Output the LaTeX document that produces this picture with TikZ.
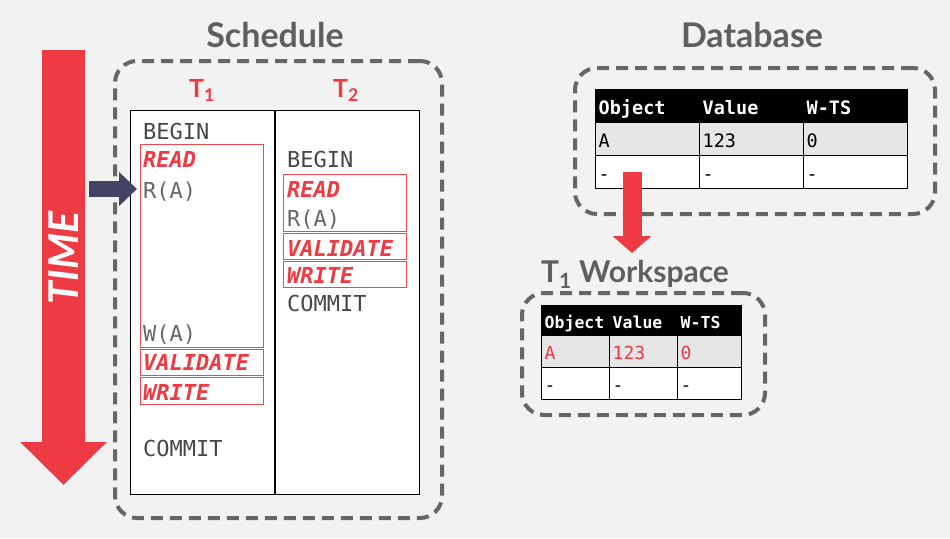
\documentclass[tikz,border=0pt]{standalone}
\usepackage{fontspec}
\setmainfont{Lato}
\setmonofont{DejaVu Sans Mono}
\usetikzlibrary{arrows.meta}
\usetikzlibrary{matrix}
\usetikzlibrary{positioning}

\definecolor{cmured}{HTML}{EE3B43}
\definecolor{boxred}{HTML}{F0474F}
\definecolor{titlegray}{HTML}{5F5F5F}
\definecolor{dashgray}{HTML}{666666}
\definecolor{textgray}{HTML}{474747}
\definecolor{lightgray}{HTML}{666666}
\definecolor{navyarrow}{HTML}{434464}
\definecolor{rowgray}{HTML}{E6E6E6}
\definecolor{bggray}{HTML}{F2F2F2}

\newcommand{\stmtfont}{\fontsize{22}{24}\selectfont\ttfamily}

\tikzset{
  heading/.style={font=\fontsize{34}{36}\selectfont\bfseries, text=titlegray, inner sep=0pt, anchor=base},
  tlabel/.style={font=\fontsize{25}{26}\selectfont\bfseries, text=cmured, inner sep=0pt, anchor=base},
  stmt/.style={font=\stmtfont, text=textgray, inner sep=0pt, anchor=base west},
  access/.style={stmt, text=lightgray},
  phase/.style={stmt, font=\stmtfont\bfseries\itshape, text=cmured},
  opbox/.style={draw=boxred, line width=1.3pt, anchor=north west, inner sep=0pt, minimum width=123pt},
  groupbox/.style={draw=dashgray, line width=4pt, dash pattern=on 12pt off 7pt, rounded corners=22pt, anchor=north west, inner sep=0pt},
  schedcol/.style={draw=black, line width=1pt, fill=white, minimum width=144pt, minimum height=384pt, anchor=north west, inner sep=0pt},
  dbtable/.style={matrix of nodes, column sep=-1pt, row sep=-1pt, anchor=north west, inner sep=0pt,
    nodes={draw=black, line width=1pt, fill=white, text width=98pt, inner xsep=3pt, inner ysep=0pt,
      text height=18pt, text depth=2pt, minimum height=33pt, align=left,
      font=\fontsize{18.5}{20}\selectfont\ttfamily},
    row 1/.style={nodes={fill=black, text=white, font=\fontsize{18.5}{20}\selectfont\ttfamily\bfseries}},
    row 2/.style={nodes={fill=rowgray}}},
  wstable/.style={dbtable,
    nodes={text width=62pt, minimum height=32pt, font=\fontsize{18}{20}\selectfont\ttfamily},
    column 3/.style={nodes={text width=58pt}},
    row 1/.style={nodes={fill=black, text=white, minimum height=30pt, font=\fontsize{16.5}{18}\selectfont\ttfamily\bfseries}},
    row 2/.style={nodes={fill=rowgray, text=cmured}}}
}

\begin{document}
\begin{tikzpicture}[x=1pt,y=-1pt]

  \fill[bggray] (0,0) rectangle (950,538);
  \useasboundingbox (0,0) rectangle (950,538);

  % time axis
  \coordinate (timetop) at (63.5,50);
  \coordinate (timebot) at (63.5,485);
  \draw[cmured, line width=43pt, -{Triangle[width=84pt,length=43pt]}] (timetop) -- (timebot);
  \node[rotate=90, text=white, font=\fontsize{41}{42}\selectfont\bfseries\itshape, inner sep=0pt] (time) at (63.5,258) {TIME};

  % schedule
  \node[heading] (schedtitle) at (275,47) {Schedule};
  \node[groupbox, minimum width=327pt, minimum height=457pt] (schedbox) at (113,59) {};
  \node[schedcol] (col1) at (130,110) {};
  \node[schedcol] (col2) at (col1.north east) {};
  \node[tlabel] (t1) at (202,97) {T\textsubscript{1}};
  \node[tlabel] (t2) at (346,97) {T\textsubscript{2}};

  \node[opbox, minimum height=203pt] (t1read) at (140,144) {};
  \node[opbox, minimum height=26pt] (t1val) at (140,349) {};
  \node[opbox, minimum height=27pt] (t1write) at (140,377) {};
  \node[opbox, minimum height=57pt] (t2read) at (283,174) {};
  \node[opbox, minimum height=26pt] (t2val) at (283,233) {};
  \node[opbox, minimum height=26pt] (t2write) at (283,261) {};

  \node[stmt]   (t1begin)  at (143,139) {BEGIN};
  \node[phase]  (t1rdlab)  at (143,167) {READ};
  \node[access] (t1ra)     at (143,198) {R(A)};
  \node[access] (t1wa)     at (143,341) {W(A)};
  \node[phase]  (t1vallab) at (143,370) {VALIDATE};
  \node[phase]  (t1wrlab)  at (143,400) {WRITE};
  \node[stmt]   (t1commit) at (143,456) {COMMIT};

  \node[stmt]   (t2begin)  at (287,167) {BEGIN};
  \node[phase]  (t2rdlab)  at (287,197) {READ};
  \node[access] (t2ra)     at (287,226) {R(A)};
  \node[phase]  (t2vallab) at (287,256) {VALIDATE};
  \node[phase]  (t2wrlab)  at (287,283) {WRITE};
  \node[stmt]   (t2commit) at (287,311) {COMMIT};

  \coordinate (ptr) at (89,189);
  \draw[navyarrow, line width=16pt, -{Triangle[width=33pt,length=18pt]}] (ptr) -- ([xshift=-6pt]t1ra.west |- ptr);

  % database
  \node[heading] (dbtitle) at (752,47) {Database};
  \node[groupbox, minimum width=360pt, minimum height=146pt] (dbbox) at (573,66) {};
  \matrix[dbtable] (db) at (595,89) {
    Object & Value & W-TS \\
    A      & 123   & 0    \\
    -      & -     & -    \\
  };

  % workspace
  \node[heading, font=\fontsize{30}{32}\selectfont\bfseries] (wstitle) at (635,282) {T\textsubscript{1} Workspace};
  \node[groupbox, minimum width=243pt, minimum height=122pt] (wsbox) at (520,291) {};
  \matrix[wstable] (ws) at (541,305) {
    Object & Value & W-TS \\
    A      & 123   & 0    \\
    -      & -     & -    \\
  };

  \coordinate (copyfrom) at (632,172);
  \coordinate (copyto) at (632,253);
  \draw[cmured, line width=19pt, -{Triangle[width=38pt,length=17pt]}] (copyfrom) -- (copyto);

\end{tikzpicture}
\end{document}
